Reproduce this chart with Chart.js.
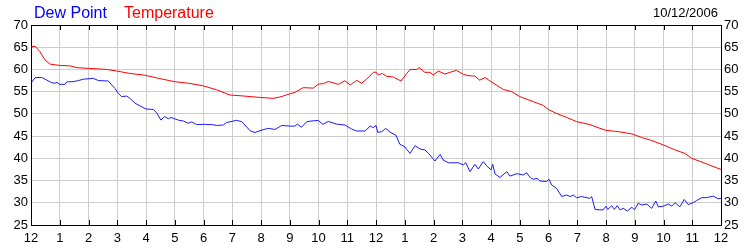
<!DOCTYPE html>
<html>
<head>
<meta charset="utf-8">
<script src="https://cdn.jsdelivr.net/npm/chart.js@4.4.1/dist/chart.umd.min.js"></script>
<style>
  html, body { margin: 0; padding: 0; background: #fff; }
  #wrap { width: 750px; height: 250px; position: relative; }
</style>
</head>
<body>
<div id="wrap"><canvas id="weatherChart" width="750" height="250"></canvas></div>
<script>
// hour labels along the bottom (0..24)
const hourLabels = ['12', '1', '2', '3', '4', '5', '6', '7', '8', '9', '10', '11',
                    '12', '1', '2', '3', '4', '5', '6', '7', '8', '9', '10', '11', '12'];
const yTicks = [25, 30, 35, 40, 45, 50, 55, 60, 65, 70];

const tempHours = [0, 0.15, 0.31, 0.49, 0.66, 1.0, 1.36, 1.59, 2.0, 2.63, 2.98, 3.44, 3.97, 4.43, 5.0, 5.47,
  6.0, 6.46, 6.92, 7.44, 7.97, 8.43, 8.66, 9.0, 9.18, 9.47, 9.82, 10.0, 10.17, 10.34, 10.69, 10.92,
  11.1, 11.33, 11.5, 11.68, 11.91, 12.0, 12.08, 12.22, 12.37, 12.6, 12.87, 13.07, 13.18, 13.42, 13.5,
  13.7, 13.88, 13.99, 14.17, 14.4, 14.57, 14.8, 15.04, 15.2, 15.44, 15.6, 15.8, 16.0, 16.43, 16.72,
  17.0, 17.47, 17.82, 17.99, 18.28, 18.63, 18.98, 19.44, 19.79, 20.0, 20.43, 20.9, 21.24, 21.59,
  22.0, 22.4, 22.75, 22.98, 23.44, 23.79, 24.0];
const tempValues = [65.1, 65.2, 64.0, 62.1, 61.2, 60.9, 60.8, 60.4, 60.25, 60.0, 59.65, 59.1, 58.7, 58.0, 57.25, 56.9,
  56.3, 55.4, 54.25, 54.0, 53.7, 53.5, 53.8, 54.5, 54.85, 55.9, 55.8, 56.7, 56.8, 57.3, 56.65, 57.45,
  56.5, 57.55, 56.9, 57.85, 59.35, 59.4, 58.75, 59.1, 58.45, 58.3, 57.4, 59.1, 59.95, 60.0, 60.4,
  59.35, 59.35, 58.75, 59.65, 58.95, 59.35, 59.8, 58.9, 58.6, 58.5, 57.6, 58.15, 57.25, 55.5, 55.0,
  53.9, 52.75, 51.9, 51.0, 50.1, 49.2, 48.25, 47.6, 46.75, 46.3, 46.0, 45.5, 44.7, 44.0,
  43.0, 41.9, 41.1, 40.0, 38.9, 38.0, 37.5];

const dewHours = [0, 0.14, 0.37, 0.55, 0.72, 0.83, 0.9, 1.0, 1.18, 1.24, 1.47, 1.65, 1.82, 2.17, 2.34, 2.69,
  2.81, 2.92, 3.04, 3.15, 3.33, 3.44, 3.62, 3.79, 4.0, 4.25, 4.37, 4.52, 4.64, 4.78, 4.87, 5.12, 5.3,
  5.47, 5.59, 5.76, 6.0, 6.28, 6.46, 6.69, 6.8, 7.15, 7.33, 7.44, 7.62, 7.79, 8.0, 8.25, 8.49, 8.72,
  9.0, 9.18, 9.26, 9.41, 9.59, 9.82, 10.0, 10.15, 10.34, 10.63, 10.92, 11.15, 11.33, 11.62, 11.8, 11.9,
  12.0, 12.06, 12.2, 12.34, 12.49, 12.69, 12.83, 13.0, 13.18, 13.36, 13.53, 13.7, 13.84, 14.05, 14.23,
  14.34, 14.52, 14.86, 15.04, 15.12, 15.27, 15.44, 15.56, 15.73, 15.85, 16.0, 16.06, 16.14, 16.31,
  16.55, 16.66, 16.9, 17.12, 17.24, 17.36, 17.47, 17.6, 17.7, 17.94, 18.02, 18.11, 18.28, 18.46,
  18.63, 18.75, 18.86, 18.98, 19.15, 19.44, 19.5, 19.62, 19.79, 19.9, 20.0, 20.06, 20.2, 20.29, 20.39,
  20.49, 20.6, 20.74, 20.9, 20.99, 21.12, 21.24, 21.42, 21.59, 21.73, 21.82, 22.0, 22.17, 22.29, 22.4,
  22.57, 22.72, 22.86, 23.03, 23.15, 23.33, 23.5, 23.73, 23.9, 24.0];
const dewValues = [56.9, 58.15, 58.2, 57.6, 57.0, 56.9, 57.1, 56.65, 56.65, 57.2, 57.25, 57.5, 57.8, 58.0, 57.5, 57.4,
  56.5, 55.75, 54.6, 53.9, 54.0, 53.5, 52.4, 51.8, 51.1, 51.0, 50.25, 48.6, 49.4, 48.9, 49.2, 48.6, 48.4,
  47.9, 48.2, 47.6, 47.65, 47.6, 47.4, 47.5, 48.05, 48.55, 48.25, 47.5, 46.2, 45.8, 46.3, 46.75, 46.5, 47.4,
  47.25, 47.25, 47.7, 47.0, 48.25, 48.45, 48.5, 47.65, 48.3, 47.7, 47.5, 46.6, 46.15, 46.15, 47.25, 46.9,
  47.4, 45.85, 46.0, 46.75, 45.85, 45.25, 43.15, 42.6, 41.1, 42.85, 42.1, 41.9, 41.0, 39.4, 40.9,
  39.6, 39.0, 39.0, 38.5, 39.05, 37.0, 38.65, 37.6, 39.25, 38.3, 37.4, 38.65, 36.5, 35.7,
  37.0, 36.0, 36.55, 36.25, 36.75, 35.7, 35.3, 35.5, 34.9, 34.8, 35.3, 34.0, 33.25, 31.4,
  31.75, 31.4, 31.75, 31.15, 31.4, 31.0, 31.4, 28.5, 28.4, 28.4, 29.25, 28.5, 29.35, 28.5, 29.35,
  28.4, 28.75, 28.15, 29.0, 28.4, 29.9, 29.5, 29.7, 28.75, 30.4, 29.1, 29.25, 29.7, 29.25, 30.0,
  29.1, 30.75, 29.6, 30.0, 30.5, 31.15, 31.15, 31.5, 30.9, 31.0];

const dateText = '10/12/2006';
const FONT = '"Liberation Sans", Arial, sans-serif';

function toPoints(xs, ys) {
  return xs.map((x, i) => ({ x: x, y: ys[i] }));
}

// frame, inside hour ticks and the header texts
const framePlugin = {
  id: 'frame',
  afterDatasetsDraw(chart) {
    const ctx = chart.ctx;
    const a = chart.chartArea;
    const xs = chart.scales.x;
    ctx.save();
    ctx.strokeStyle = '#000';
    ctx.lineWidth = 1;
    ctx.beginPath();
    for (let h = 1; h < 24; h++) {
      const px = Math.round(xs.getPixelForValue(h)) + 0.5;
      ctx.moveTo(px, a.top);
      ctx.lineTo(px, a.top + 5);
      ctx.moveTo(px, a.bottom);
      ctx.lineTo(px, a.bottom - 5);
    }
    ctx.stroke();
    ctx.strokeRect(Math.round(a.left) + 0.5, Math.round(a.top) + 0.5,
      Math.round(a.right - a.left), Math.round(a.bottom - a.top));

    ctx.textBaseline = 'alphabetic';
    ctx.font = '16px ' + FONT;
    ctx.textAlign = 'left';
    ctx.fillStyle = '#0000ff';
    ctx.fillText('Dew Point', 34, 18);
    ctx.fillStyle = '#ff0000';
    ctx.fillText('Temperature', 124, 18);
    ctx.font = '13px ' + FONT;
    ctx.fillStyle = '#000';
    ctx.textAlign = 'right';
    ctx.fillText(dateText, 718, 17);
    ctx.restore();
  }
};

const ctx = document.getElementById('weatherChart').getContext('2d');
new Chart(ctx, {
  type: 'line',
  data: {
    datasets: [{
      label: 'Temperature',
      data: toPoints(tempHours, tempValues),
      borderColor: '#ff0000',
      borderWidth: 1,
      pointRadius: 0,
      tension: 0,
      fill: false
    }, {
      label: 'Dew Point',
      data: toPoints(dewHours, dewValues),
      borderColor: '#1a1aff',
      borderWidth: 1,
      pointRadius: 0,
      tension: 0,
      fill: false
    }]
  },
  options: {
    responsive: false,
    animation: false,
    parsing: false,
    layout: { padding: { top: 25, left: 0, right: 0, bottom: 0 } },
    plugins: {
      legend: { display: false },
      tooltip: { enabled: false }
    },
    scales: {
      x: {
        type: 'linear',
        min: 0,
        max: 24,
        afterBuildTicks(scale) {
          scale.ticks = hourLabels.map((_, i) => ({ value: i }));
        },
        afterFit(scale) { scale.height = 25; },
        ticks: {
          autoSkip: false,
          maxRotation: 0,
          padding: 6,
          color: '#000',
          font: { family: FONT, size: 13 },
          callback: (v) => hourLabels[v]
        },
        grid: { color: '#cccccc', drawTicks: false },
        border: { color: '#000' }
      },
      y: {
        position: 'left',
        min: 25,
        max: 70,
        afterBuildTicks(scale) {
          scale.ticks = yTicks.map(v => ({ value: v }));
        },
        afterFit(scale) { scale.width = 31; },
        ticks: {
          padding: 3,
          color: '#000',
          font: { family: FONT, size: 13 }
        },
        grid: { color: '#cccccc', drawTicks: false },
        border: { color: '#000' }
      },
      y2: {
        position: 'right',
        min: 25,
        max: 70,
        afterBuildTicks(scale) {
          scale.ticks = yTicks.map(v => ({ value: v }));
        },
        afterFit(scale) { scale.width = 29; },
        ticks: {
          padding: 3,
          color: '#000',
          font: { family: FONT, size: 13 }
        },
        grid: { display: false, drawTicks: false },
        border: { color: '#000' }
      }
    }
  },
  plugins: [framePlugin]
});
</script>
</body>
</html>
